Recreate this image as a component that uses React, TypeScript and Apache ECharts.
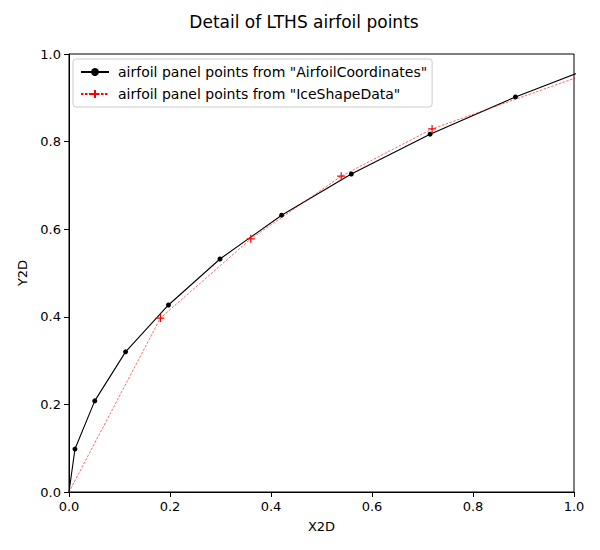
import React, { useEffect, useRef } from "react";
import * as echarts from "echarts";

const airfoilX = [0.0118, 0.0, 0.0118, 0.051, 0.112, 0.197, 0.299, 0.421, 0.559, 0.715, 0.884, 1.06];
const airfoilY = [-0.098, 0.0, 0.098, 0.208, 0.32, 0.427, 0.532, 0.632, 0.726, 0.817, 0.902, 0.98];
const iceX = [0.181, 0.0, 0.181, 0.36, 0.539, 0.719, 1.08];
const iceY = [-0.397, 0.0, 0.397, 0.578, 0.721, 0.829, 0.977];
const tickLabels = ["0.0", "0.2", "0.4", "0.6", "0.8", "1.0"];

const seriesNames = [
  'airfoil panel points from "AirfoilCoordinates"',
  'airfoil panel points from "IceShapeData"',
];

// markers sitting on the axes corner are hidden (clipped away in the original)
const pair = (xs: number[], ys: number[]) =>
  xs.map((x, i) =>
    x === 0 && ys[i] === 0 ? { value: [x, ys[i]], symbol: "none" } : { value: [x, ys[i]] }
  );
const fmt = (v: number) => tickLabels[Math.round(v / 0.2)] ?? v.toFixed(1);

export default function App() {
  const ref = useRef<HTMLDivElement>(null);
  useEffect(() => {
    const chart = echarts.init(ref.current!, null, { renderer: "svg" });
    const font = "DejaVu Sans";
    const axisCommon = {
      min: 0,
      max: 1,
      interval: 0.2,
      nameLocation: "middle" as const,
      nameTextStyle: { color: "#000", fontSize: 13, fontFamily: font },
      axisLine: { show: true, lineStyle: { color: "#000", width: 1 } },
      axisTick: { show: true, inside: false, length: 5, lineStyle: { color: "#000" } },
      axisLabel: { color: "#000", fontSize: 13, fontFamily: font, formatter: fmt },
      splitLine: { show: false },
    };
    chart.setOption({
      animation: false,
      backgroundColor: "#fff",
      title: {
        text: "Detail of LTHS airfoil points",
        left: "center",
        top: 0,
        textStyle: { color: "#000", fontSize: 17, fontWeight: "normal", fontFamily: font },
      },
      grid: {
        left: 58,
        right: 26,
        top: 46,
        bottom: 58,
        show: true,
        borderColor: "#000",
        borderWidth: 1,
        backgroundColor: "transparent",
      },
      legend: {
        orient: "vertical",
        left: 65,
        top: 51,
        padding: [6, 5, 6, 7],
        itemGap: 8,
        itemWidth: 28,
        itemHeight: 10,
        backgroundColor: "#fff",
        borderColor: "#ccc",
        borderWidth: 1,
        borderRadius: 3,
        textStyle: { color: "#000", fontSize: 14, fontFamily: font, padding: [0, 0, 0, 4] },
        data: seriesNames,
      },
      xAxis: { ...axisCommon, type: "value", name: "X2D", nameGap: 28 },
      yAxis: { ...axisCommon, type: "value", name: "Y2D", nameGap: 40 },
      series: [
        {
          name: seriesNames[0],
          type: "line",
          data: pair(airfoilX, airfoilY),
          symbol: "circle",
          symbolSize: 5,
          showAllSymbol: true,
          clip: true,
          lineStyle: { color: "#000", width: 1.1 },
          itemStyle: { color: "#000" },
          z: 3,
        },
        {
          name: seriesNames[1],
          type: "line",
          data: pair(iceX, iceY),
          symbol: "path://M0,5L10,5M5,0L5,10",
          symbolSize: 8,
          showAllSymbol: true,
          clip: true,
          lineStyle: { color: "#ff0000", width: 0.6, type: [2.5, 1.5] },
          itemStyle: { color: "#ff0000", borderColor: "#ff0000", borderWidth: 1.2 },
          z: 4,
        },
      ],
    });
    return () => chart.dispose();
  }, []);
  return <div ref={ref} style={{ width: 592, height: 542 }} />;
}
